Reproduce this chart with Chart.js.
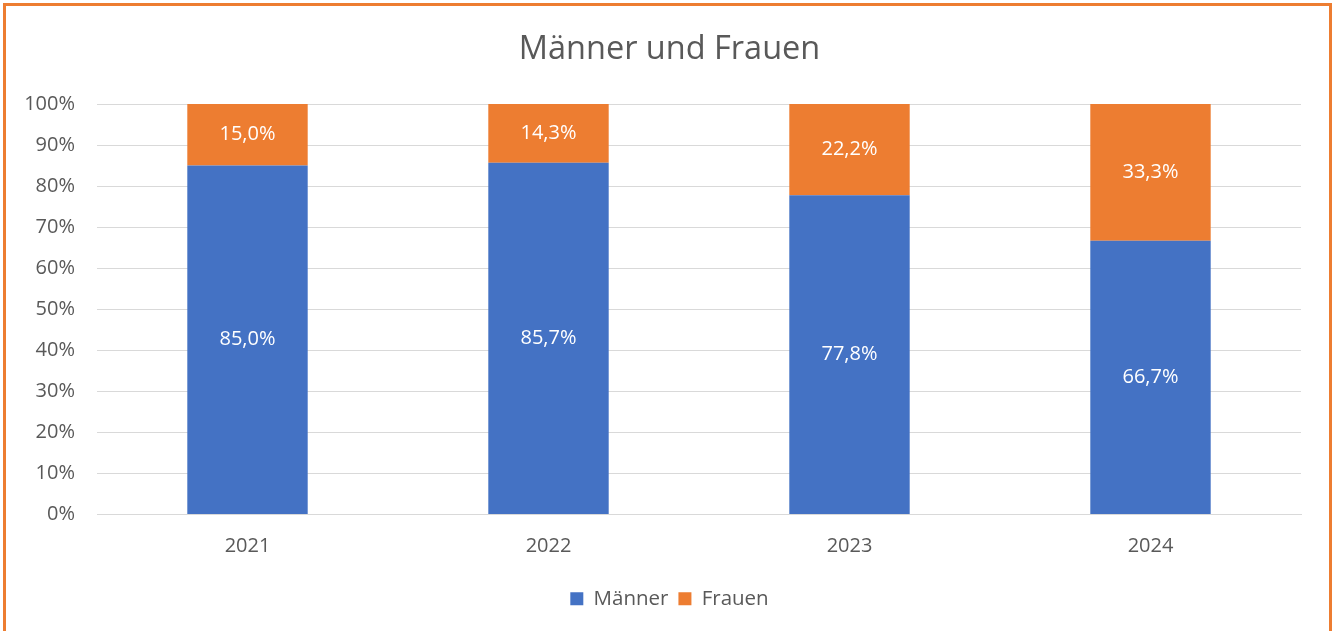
<!DOCTYPE html>
<html>
<head>
<meta charset="utf-8">
<script src="https://cdn.jsdelivr.net/npm/chart.js@4/dist/chart.umd.min.js"></script>
<style>
	body { margin: 0; background: #fff; overflow: hidden; }
	#frame { position: absolute; left: 3px; top: 3px; width: 1323px; height: 700px;
		border: 3px solid #ED7D31; background: #fff; }
	#wrap { position: absolute; left: 0; top: 0; width: 1339px; height: 631px; }
</style>
</head>
<body>
<div id="frame"></div>
<div id="wrap"><canvas id="chart" width="1339" height="631"></canvas></div>
<script>
var years = ['2021', '2022', '2023', '2024'];
var maenner = [85.0, 85.7, 77.8, 66.7];
var frauen = [15.0, 14.3, 22.2, 33.3];

var textGray = '#595959';
var fontFam = '"Open Sans", sans-serif';

// Werte in die Balken schreiben
var barLabels = {
	id: 'barLabels',
	afterDatasetsDraw: function(chart) {
		var ctx = chart.ctx;
		ctx.save();
		ctx.fillStyle = '#ffffff';
		ctx.font = '20px ' + fontFam;
		ctx.textAlign = 'center';
		ctx.textBaseline = 'middle';
		chart.data.datasets.forEach(function(ds, i) {
			var meta = chart.getDatasetMeta(i);
			meta.data.forEach(function(el, j) {
				var txt = ds.data[j].toFixed(1).replace('.', ',') + '%';
				ctx.fillText(txt, el.x, (el.y + el.base) / 2);
			});
		});
		ctx.restore();
	}
};

new Chart(document.getElementById('chart'), {
	type: 'bar',
	data: {
		labels: years,
		datasets: [
			{ label: 'Männer', data: maenner, backgroundColor: '#4472C4' },
			{ label: 'Frauen', data: frauen, backgroundColor: '#ED7D31' }
		]
	},
	options: {
		responsive: false,
		animation: false,
		layout: { padding: { left: 0, right: 0, top: 0, bottom: 12 } },
		datasets: { bar: { categoryPercentage: 1, barPercentage: 0.4 } },
		plugins: {
			title: {
				display: true,
				text: 'Männer und Frauen',
				color: textGray,
				font: { family: fontFam, size: 32.5, weight: 'normal' },
				padding: { top: 30, bottom: 35 }
			},
			legend: {
				position: 'bottom',
				labels: {
					color: textGray,
					font: { family: fontFam, size: 20.5 },
					boxWidth: 13,
					boxHeight: 13,
					padding: 10
				}
			},
			tooltip: { enabled: false }
		},
		scales: {
			x: {
				stacked: true,
				grid: { display: false, drawTicks: false },
				border: { color: '#d9d9d9' },
				ticks: { color: textGray, font: { family: fontFam, size: 20 }, padding: 20 }
			},
			y: {
				stacked: true,
				min: 0,
				max: 100,
				grid: { color: '#d9d9d9', drawTicks: false },
				border: { display: false },
				ticks: {
					stepSize: 10,
					color: textGray,
					font: { family: fontFam, size: 20 },
					padding: 22,
					callback: function(v) { return v + '%'; }
				},
				afterFit: function(scale) { scale.width = 97; }
			},
			// leerer Rand rechts, damit Titel und Legende mittig bleiben
			rechts: {
				type: 'linear',
				position: 'right',
				grid: { display: false, drawTicks: false },
				border: { display: false },
				ticks: { display: false },
				afterFit: function(scale) { scale.width = 38; }
			}
		}
	},
	plugins: [barLabels]
});
</script>
</body>
</html>
